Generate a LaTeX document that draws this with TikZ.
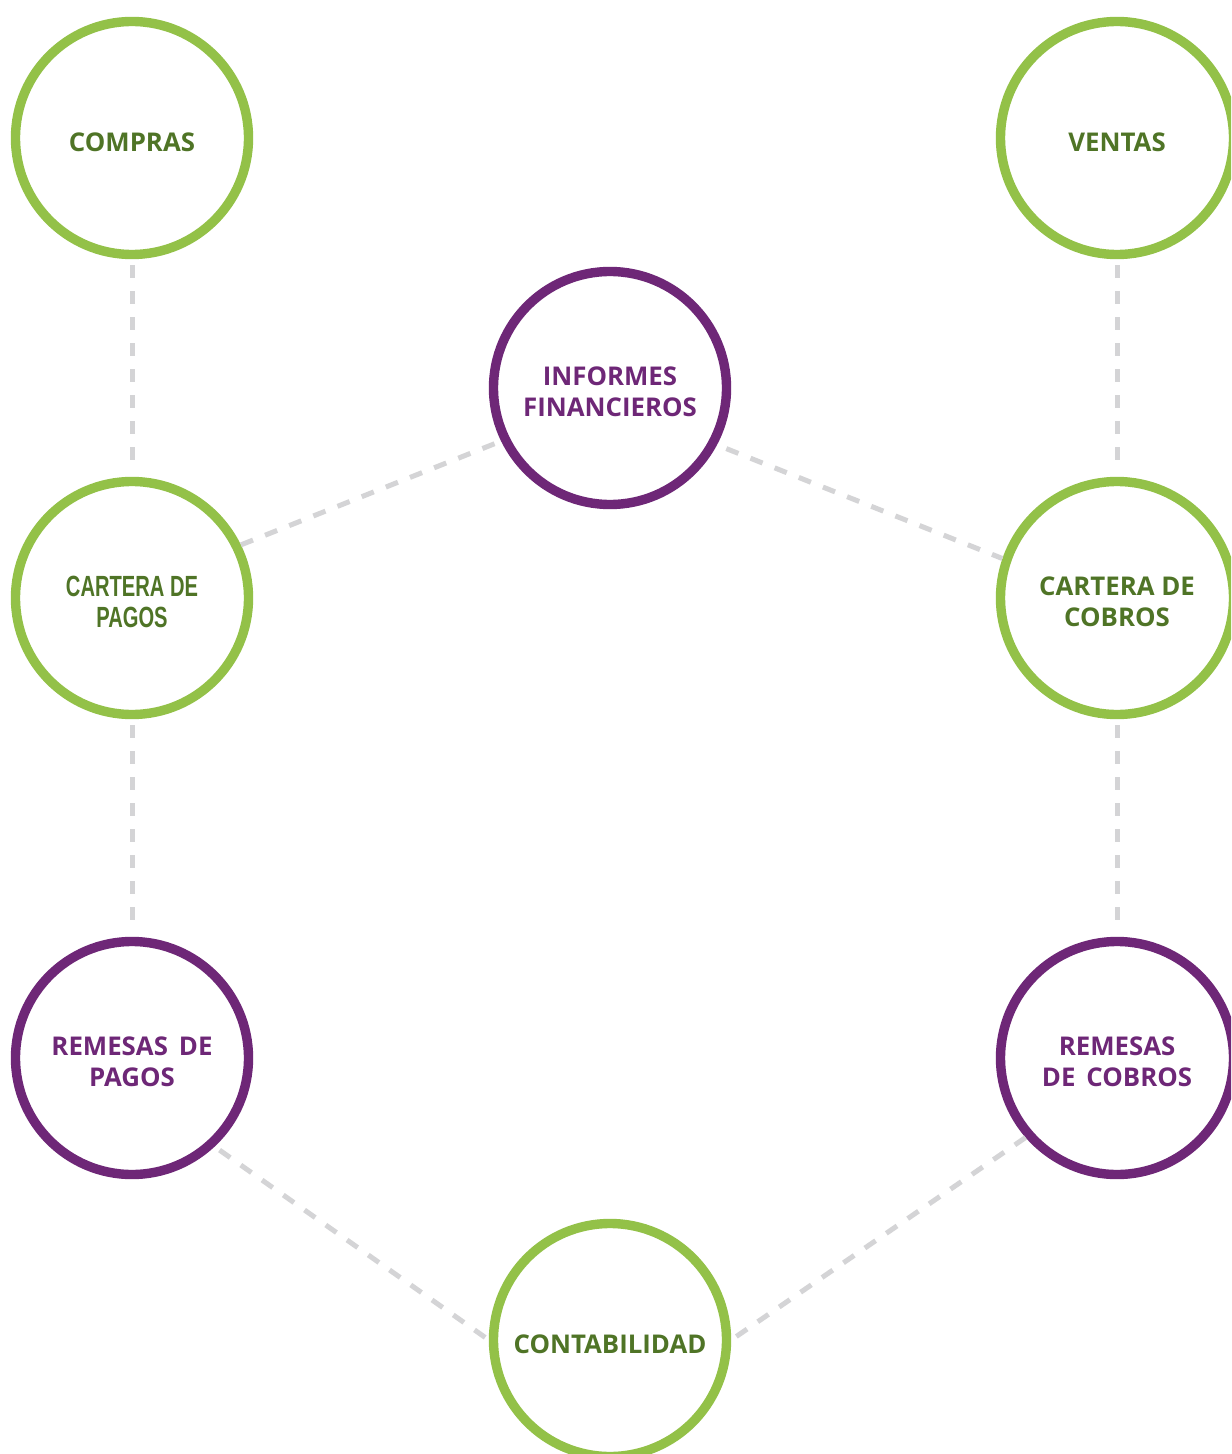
\documentclass[tikz,border=0pt]{standalone}
\usepackage{fontspec}
\setmainfont{Open Sans}
\newfontfamily\condfont{Liberation Sans}[FakeStretch=0.69]
\definecolor{ggreen}{HTML}{93C148}
\definecolor{gdark}{HTML}{4F7426}
\definecolor{gpurple}{HTML}{6E2777}
\definecolor{lgray}{HTML}{D4D4D6}
\tikzset{
  ring/.style={circle, line width=4.7pt, minimum size=116.5pt, inner sep=0pt},
  gcirc/.style={ring, draw=ggreen},
  pcirc/.style={ring, draw=gpurple},
  lab/.style={align=center, inner sep=0pt, yshift=-2pt,
    font=\bfseries\fontsize{12.9pt}{15.5pt}\selectfont},
  glab/.style={lab, text=gdark},
  plab/.style={lab, text=gpurple},
  conn/.style={draw=lgray, line width=2.5pt, dash pattern=on 6.5pt off 6.5pt}
}
\begin{document}
\begin{tikzpicture}[x=0.5pt,y=-0.5pt]
\useasboundingbox (0,0) rectangle (1231,1454);
\clip (0,0) rectangle (1231,1454);
\fill[white] (0,0) rectangle (1231,1454);
% nodes
\node[gcirc, label={[glab, name=comt]center:COMPRAS}] (com) at (132,138) {};
\node[gcirc, label={[glab, name=vent]center:VENTAS}] (ven) at (1117,138) {};
\node[pcirc, label={[plab, name=inft]center:INFORMES\\FINANCIEROS}] (inf) at (610,388) {};
\node[gcirc, label={[glab, name=cpt, font=\condfont\bfseries\fontsize{14.6pt}{15.5pt}\selectfont]center:CARTERA DE\\PAGOS}] (cp) at (132,598) {};
\node[gcirc, label={[glab, name=cct]center:CARTERA DE\\COBROS}] (cc) at (1117,598) {};
\node[pcirc, label={[plab, name=rpt]center:REMESAS\ \,DE\\PAGOS}] (rp) at (132,1058) {};
\node[pcirc, label={[plab, name=rct]center:REMESAS\\DE\ \,COBROS}] (rc) at (1117,1058) {};
\node[gcirc, label={[glab, name=contt]center:CONTABILIDAD}] (cont) at (610,1340) {};
% connectors
\draw[conn, shorten <=3pt, shorten >=3pt] (com.south) -- (cp.north);
\draw[conn, shorten <=3pt, shorten >=3pt] (ven.south) -- (cc.north);
\draw[conn, shorten <=3pt, shorten >=3pt] (cp.south) -- (rp.north);
\draw[conn, shorten <=3pt, shorten >=3pt] (cc.south) -- (rc.north);
\draw[conn, shorten >=3pt] (cp.26) -- (inf.206);
\draw[conn, shorten <=5pt] (inf.-28) -- (cc.161);
\draw[conn, shorten <=3pt] (rp.-47) -- (cont.180);
\draw[conn] (rc.221) -- (cont.0);
\end{tikzpicture}
\end{document}
